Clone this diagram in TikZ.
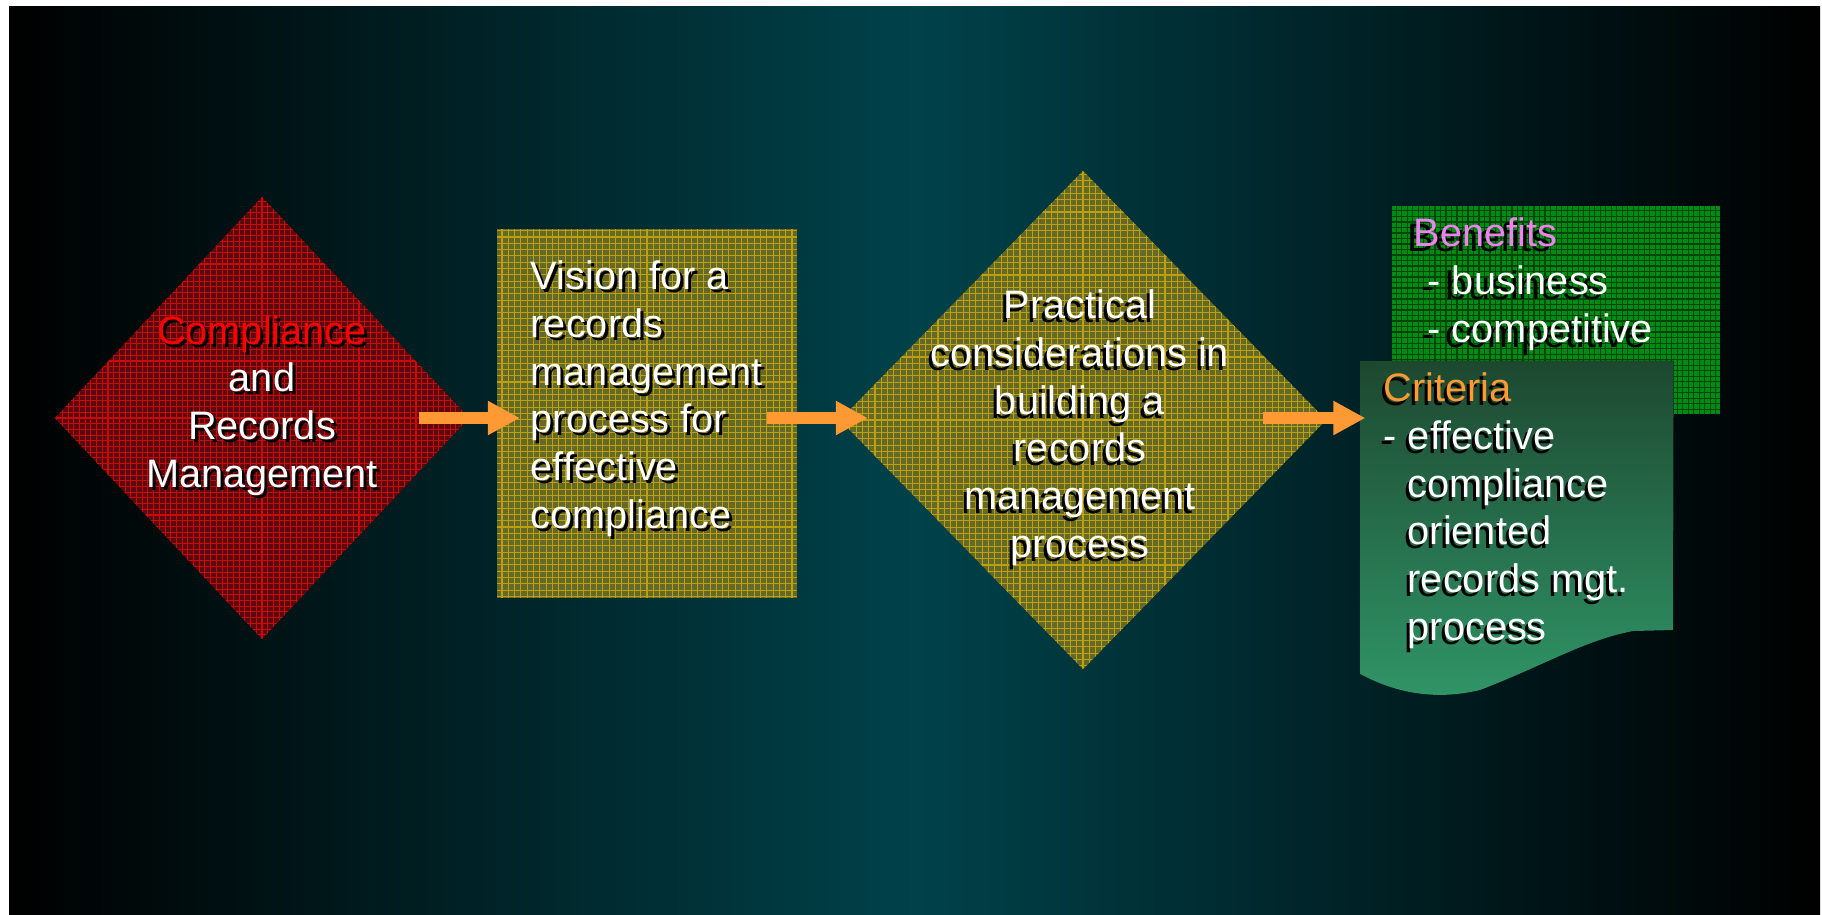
\documentclass[tikz,border=0pt]{standalone}
\usepackage{fontspec}
\setmainfont{Liberation Sans}
\usetikzlibrary{shapes.geometric,arrows.meta}

\definecolor{bgteal}{RGB}{0,66,74}
\definecolor{redbase}{RGB}{90,10,15}
\definecolor{redline}{RGB}{200,10,10}
\definecolor{olivebase}{RGB}{100,105,40}
\definecolor{oliveline}{RGB}{190,160,10}
\definecolor{greenbase}{RGB}{0,140,20}
\definecolor{greenline}{RGB}{0,70,0}
\definecolor{arroworange}{RGB}{255,153,51}
\definecolor{critTop}{RGB}{29,72,48}
\definecolor{critBottom}{RGB}{48,150,104}
\definecolor{benviolet}{RGB}{238,130,238}
\definecolor{comred}{RGB}{255,0,0}

\newcommand{\colword}[2]{\textcolor{#1}{#2}}
% #1 style, #2 name, #3 position (last baseline), #4 shadow shift, #5 text
\newcommand{\shadowtext}[5]{%
	\node[#1, text=black] at ([shift={(#4)}]#3) {\renewcommand{\colword}[2]{##2}#5};
	\node[#1] (#2) at (#3) {#5};}

\begin{document}
\begin{tikzpicture}[x=0.01cm, y=-0.01cm,
	txt/.style={text=white, inner sep=0pt, font=\fontsize{11.3pt}{13.55pt}\selectfont},
	mid/.style={txt, align=center, anchor=base},
	lft/.style={txt, align=left, anchor=base west},
	box/.style={inner sep=0pt, outer sep=0pt},
	redtex/.style={box, fill=redbase, path picture={\draw[redline, line width=0.3pt, step=0.057cm] (path picture bounding box.south west) grid (path picture bounding box.north east);}},
	olivetex/.style={box, fill=olivebase, path picture={\draw[oliveline, line width=0.3pt, step=0.063cm] (path picture bounding box.south west) grid (path picture bounding box.north east);}},
	greentex/.style={box, fill=greenbase, path picture={\draw[greenline, line width=0.3pt, step=0.055cm] (path picture bounding box.south west) grid (path picture bounding box.north east);}},
	flow/.style={draw=arroworange, line width=0.12cm, -{Triangle[length=0.32cm, width=0.32cm]}}]
	\fill[white] (0,0) rectangle (1822,914);
	\shade[left color=black, right color=black, middle color=bgteal] (9,6) rectangle (1820,914);
	\useasboundingbox (0,0) rectangle (1822,914);
	% shapes
	\node[diamond, redtex, minimum width=4.14cm, minimum height=4.42cm] (comp) at (262,418) {};
	\node[rectangle, olivetex, minimum width=3cm, minimum height=3.69cm] (vision) at (647,413.5) {};
	\node[diamond, olivetex, minimum width=4.86cm, minimum height=4.98cm] (pract) at (1083,420) {};
	\node[rectangle, greentex, minimum width=3.28cm, minimum height=2.08cm] (benef) at (1556,310) {};
	\node[box, minimum width=3.13cm, minimum height=3.13cm] (crit) at (1517,517.5) {};
	\fill[top color=critTop, bottom color=critBottom] (crit.north west) -- (crit.north east) -- (1673,630) -- (1633,631) .. controls (1585,640) and (1545,665) .. (1480,690) .. controls (1430,702) and (1390,690) .. (crit.south west) -- cycle;
	% arrows
	\draw[flow] ([xshift=-0.5cm]comp.east) -- ([xshift=0.23cm]comp.east -| vision.west);
	\draw[flow] ([xshift=-0.3cm]vision.east |- comp.east) -- ([xshift=0.28cm]comp.east -| pract.west);
	\draw[flow] ([xshift=-0.63cm]pract.east |- comp.east) -- ([xshift=0.05cm]comp.east -| crit.west);
	% texts
	\shadowtext{mid}{comptxt}{262,487}{3,3}{\colword{comred}{Compliance}\\and\\Records\\Management}
	\shadowtext{lft}{visiontxt}{530,528}{3,3}{Vision for a\\records\\management\\process for\\effective\\compliance}
	\shadowtext{mid}{practtxt}{1080,557}{-3,4}{Practical\\considerations in\\building a\\records\\management\\process}
	\shadowtext{lft}{beneftxt}{1413,342}{-6,5}{\colword{benviolet}{Benefits}\\\hspace*{0.14cm}- business\\\hspace*{0.14cm}- competitive}
	\shadowtext{lft}{crittxt}{1383,640}{-3,4}{\colword{arroworange}{Criteria}\\- effective\\\hspace*{0.24cm}compliance\\\hspace*{0.24cm}oriented\\\hspace*{0.24cm}records mgt.\\\hspace*{0.24cm}process}
\end{tikzpicture}
\end{document}
